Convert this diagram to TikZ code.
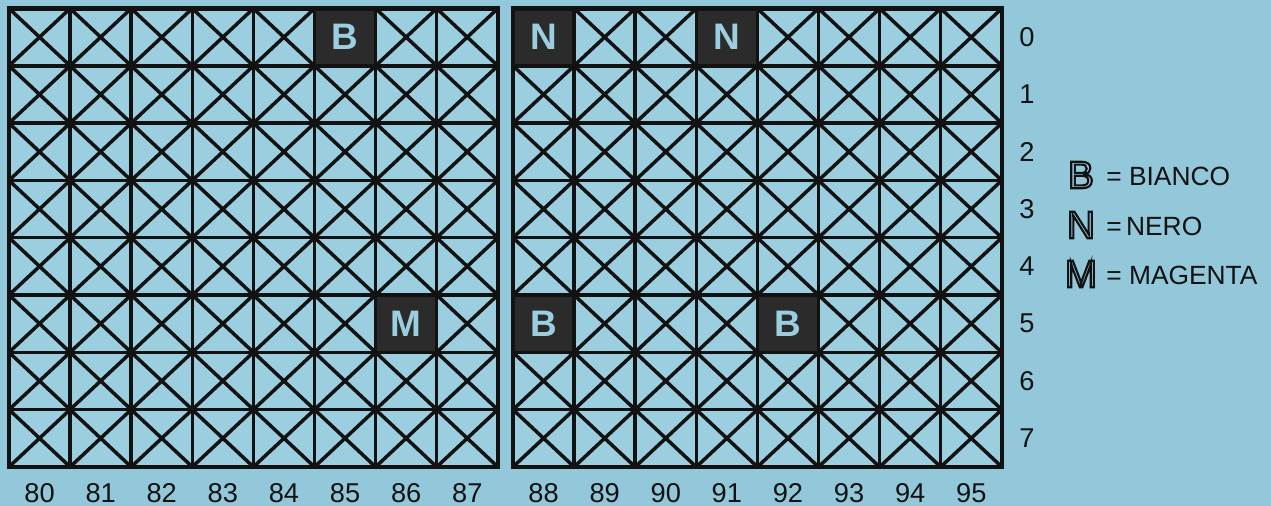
\documentclass[tikz,border=0pt]{standalone}
\usepackage{fontspec}
\setmainfont{Liberation Sans}
\usepackage{xcolor}
\definecolor{sheet}{HTML}{93C7DA}
\definecolor{cellbg}{HTML}{9BCFE0}
\definecolor{ink}{HTML}{121212}
\definecolor{tone}{HTML}{2B2B2B}
\usepackage{tikz}
% hollow (stroked) letters for the key
\newcommand\hollowchar[1]{\special{pdf:literal direct q 1 Tr 1.2 w 0.07 0.07 0.07 RG}#1\special{pdf:literal direct Q}}

\begin{document}
\begin{tikzpicture}[
    x=0.02cm,y=-0.02cm,
    gridline/.style={draw=ink, line width=2pt},
    diag/.style={draw=ink, line width=2pt},
    frame/.style={draw=ink, line width=2.4pt},
    tonecell/.style={fill=tone, inner sep=0pt, minimum width=1.222cm, minimum height=1.146cm,
        font=\fontsize{21}{21}\selectfont\bfseries, text=cellbg},
    numlab/.style={font=\fontsize{15.5}{17}\selectfont, text=ink},
    keychar/.style={font=\fontsize{22}{22}\selectfont, inner sep=0pt},
    keytext/.style={font=\fontsize{15}{17}\selectfont, text=ink, anchor=west, inner sep=0pt}
]
    % sheet
    \fill[sheet] (0,0) rectangle (1271,506);
    \useasboundingbox (0,0) rectangle (1271,506);

    % boards with crossed cells
    \foreach \gx in {9,513} {
        \fill[cellbg] (\gx,8.5) rectangle ++(488.8,458.4);
        \foreach \i in {0,...,7} {
            \foreach \j in {0,...,7} {
                \draw[diag] ({\gx+\i*61.1},{8.5+\j*57.3}) -- ++(61.1,57.3);
                \draw[diag] ({\gx+(\i+1)*61.1},{8.5+\j*57.3}) -- ++(-61.1,57.3);
            }
        }
    }

    % marked cells
    \foreach \gx/\i/\j/\c/\nm in {9/5/0/B/a, 9/6/5/M/b, 513/0/0/N/c, 513/3/0/N/d, 513/0/5/B/e, 513/4/5/B/f}
        \node[tonecell] (cell-\nm) at ({\gx+(\i+0.5)*61.1},{8.5+(\j+0.5)*57.3}) {\c};

    % grid lines
    \foreach \gx in {9,513} {
        \foreach \i in {1,...,7} {\draw[gridline] ({\gx+\i*61.1},8.5) -- ++(0,458.4);}
        \foreach \j in {1,...,7} {\draw[gridline] (\gx,{8.5+\j*57.3}) -- ++(488.8,0);}
        \draw[frame] (\gx,8.5) rectangle ++(488.8,458.4);
    }

    % numbering
    \foreach \i in {0,...,7} {
        \pgfmathtruncatemacro\na{80+\i}
        \pgfmathtruncatemacro\nb{88+\i}
        \node[numlab] (col\na) at ({9+(\i+0.5)*61.1},493) {\na};
        \node[numlab] (col\nb) at ({513+(\i+0.5)*61.1},493) {\nb};
        \node[numlab] (row\i) at (1027,{8.5+(\i+0.5)*57.3}) {\i};
    }

    % legend
    \node[keychar] (keyB) at (1081,175) {\hollowchar{B}};
    \node[keytext] (txtB) at (1106,176) {= BIANCO};
    \node[keychar] (keyN) at (1081,225) {\hollowchar{N}};
    \node[keytext] (txtN) at (1106,226) {=\,NERO};
    \node[keychar] (keyM) at (1081,274) {\hollowchar{M}};
    \node[keytext] (txtM) at (1106,275) {= MAGENTA};
\end{tikzpicture}
\end{document}
